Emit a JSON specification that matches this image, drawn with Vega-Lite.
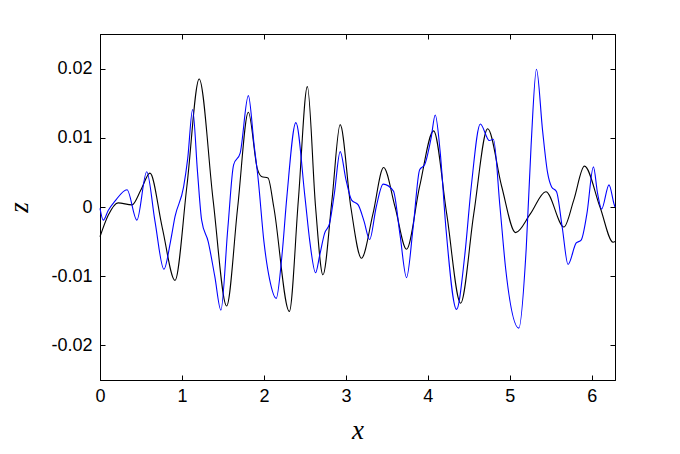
{
  "$schema": "https://vega.github.io/schema/vega-lite/v6.json",
  "width": 515,
  "height": 346,
  "autosize": "none",
  "padding": {"left": 100, "top": 34, "right": 65, "bottom": 74},
  "background": "white",
  "config": {
    "view": {"stroke": "#000000", "strokeWidth": 1},
    "axis": {
      "grid": false,
      "domainColor": "#000000",
      "tickColor": "#000000",
      "labelColor": "#000000",
      "labelFont": "Liberation Sans",
      "labelFontSize": 18,
      "labelFlush": false,
      "titleColor": "#000000",
      "titleFont": "Liberation Serif",
      "titleFontStyle": "italic",
      "titleFontWeight": "normal",
      "titleFontSize": 27
    }
  },
  "data": {"values": [
    {"s":"a","x":0,"z":-0.0043},{"s":"a","x":0.1,"z":-0.0012},{"s":"a","x":0.22,"z":0.0006},{"s":"a","x":0.39,"z":0.0003},{"s":"a","x":0.5,"z":0.0025},{"s":"a","x":0.61,"z":0.0049},{"s":"a","x":0.76,"z":-0.003},{"s":"a","x":0.915,"z":-0.0106},{"s":"a","x":1.06,"z":0.003},{"s":"a","x":1.21,"z":0.0185},{"s":"a","x":1.38,"z":0.001},{"s":"a","x":1.545,"z":-0.0143},{"s":"a","x":1.68,"z":0.0},{"s":"a","x":1.81,"z":0.0137},{"s":"a","x":1.92,"z":0.0055},{"s":"a","x":1.97,"z":0.0044},{"s":"a","x":2.05,"z":0.0042},{"s":"a","x":2.12,"z":0.0},{"s":"a","x":2.31,"z":-0.0151},{"s":"a","x":2.42,"z":0.001},{"s":"a","x":2.53,"z":0.0174},{"s":"a","x":2.63,"z":0.0},{"s":"a","x":2.72,"z":-0.0098},{"s":"a","x":2.83,"z":0.001},{"s":"a","x":2.93,"z":0.0119},{"s":"a","x":3.06,"z":0.0},{"s":"a","x":3.19,"z":-0.0074},{"s":"a","x":3.33,"z":-0.001},{"s":"a","x":3.46,"z":0.0057},{"s":"a","x":3.6,"z":0.0},{"s":"a","x":3.74,"z":-0.0061},{"s":"a","x":3.9,"z":0.003},{"s":"a","x":4.07,"z":0.011},{"s":"a","x":4.23,"z":-0.001},{"s":"a","x":4.4,"z":-0.0139},{"s":"a","x":4.56,"z":-0.001},{"s":"a","x":4.73,"z":0.0113},{"s":"a","x":4.9,"z":0.003},{"s":"a","x":5.07,"z":-0.0037},{"s":"a","x":5.25,"z":-0.001},{"s":"a","x":5.44,"z":0.0022},{"s":"a","x":5.66,"z":-0.0029},{"s":"a","x":5.78,"z":0.001},{"s":"a","x":5.91,"z":0.0059},{"s":"a","x":6.1,"z":0.0},{"s":"a","x":6.26,"z":-0.0051},{"s":"a","x":6.283,"z":-0.005},
    {"s":"b","x":0,"z":-0.0002},{"s":"b","x":0.04,"z":-0.0019},{"s":"b","x":0.1,"z":-0.0005},{"s":"b","x":0.18,"z":0.0008},{"s":"b","x":0.33,"z":0.0025},{"s":"b","x":0.45,"z":-0.0019},{"s":"b","x":0.57,"z":0.0051},{"s":"b","x":0.67,"z":-0.002},{"s":"b","x":0.78,"z":-0.009},{"s":"b","x":0.86,"z":-0.005},{"s":"b","x":0.915,"z":-0.0014},{"s":"b","x":1.02,"z":0.0029},{"s":"b","x":1.07,"z":0.007},{"s":"b","x":1.13,"z":0.0141},{"s":"b","x":1.19,"z":0.005},{"s":"b","x":1.24,"z":-0.0019},{"s":"b","x":1.32,"z":-0.005},{"s":"b","x":1.4,"z":-0.01},{"s":"b","x":1.475,"z":-0.0149},{"s":"b","x":1.56,"z":-0.003},{"s":"b","x":1.63,"z":0.0061},{"s":"b","x":1.71,"z":0.0078},{"s":"b","x":1.81,"z":0.0161},{"s":"b","x":1.88,"z":0.009},{"s":"b","x":1.93,"z":0.004},{"s":"b","x":2.0,"z":-0.005},{"s":"b","x":2.07,"z":-0.0105},{"s":"b","x":2.15,"z":-0.0132},{"s":"b","x":2.22,"z":-0.007},{"s":"b","x":2.28,"z":0.0015},{"s":"b","x":2.39,"z":0.0122},{"s":"b","x":2.5,"z":0.0015},{"s":"b","x":2.56,"z":-0.005},{"s":"b","x":2.63,"z":-0.0095},{"s":"b","x":2.68,"z":-0.007},{"s":"b","x":2.74,"z":-0.0038},{"s":"b","x":2.8,"z":-0.0024},{"s":"b","x":2.86,"z":0.002},{"s":"b","x":2.93,"z":0.008},{"s":"b","x":3.0,"z":0.004},{"s":"b","x":3.07,"z":0.001},{"s":"b","x":3.15,"z":0.0003},{"s":"b","x":3.22,"z":-0.002},{"s":"b","x":3.29,"z":-0.0047},{"s":"b","x":3.37,"z":0.0},{"s":"b","x":3.455,"z":0.0033},{"s":"b","x":3.58,"z":0.0023},{"s":"b","x":3.66,"z":-0.004},{"s":"b","x":3.74,"z":-0.0102},{"s":"b","x":3.82,"z":-0.003},{"s":"b","x":3.9,"z":0.0054},{"s":"b","x":3.96,"z":0.0061},{"s":"b","x":4.04,"z":0.01},{"s":"b","x":4.09,"z":0.0133},{"s":"b","x":4.15,"z":0.008},{"s":"b","x":4.22,"z":-0.003},{"s":"b","x":4.35,"z":-0.0148},{"s":"b","x":4.45,"z":-0.007},{"s":"b","x":4.53,"z":0.003},{"s":"b","x":4.64,"z":0.012},{"s":"b","x":4.75,"z":0.0096},{"s":"b","x":4.8,"z":0.0098},{"s":"b","x":4.88,"z":0.0},{"s":"b","x":4.95,"z":-0.009},{"s":"b","x":5.11,"z":-0.0175},{"s":"b","x":5.2,"z":-0.006},{"s":"b","x":5.26,"z":0.009},{"s":"b","x":5.325,"z":0.0199},{"s":"b","x":5.4,"z":0.011},{"s":"b","x":5.46,"z":0.005},{"s":"b","x":5.51,"z":0.0029},{"s":"b","x":5.57,"z":0.0022},{"s":"b","x":5.64,"z":-0.003},{"s":"b","x":5.71,"z":-0.0083},{"s":"b","x":5.81,"z":-0.0052},{"s":"b","x":5.87,"z":-0.0048},{"s":"b","x":5.94,"z":-0.001},{"s":"b","x":6.02,"z":0.0058},{"s":"b","x":6.07,"z":0.002},{"s":"b","x":6.12,"z":-0.0003},{"s":"b","x":6.21,"z":0.0032},{"s":"b","x":6.27,"z":0.0005},{"s":"b","x":6.283,"z":0.0}
  ]},
  "layer": [
    {
      "transform": [{"filter": "datum.s === 'a'"}],
      "mark": {"type": "line", "interpolate": "monotone", "strokeWidth": 1.1, "color": "#000000"},
      "encoding": {
        "x": {"field": "x", "type": "quantitative", "scale": {"domain": [0, 6.283185], "nice": false, "zero": false},
              "axis": {"orient": "bottom", "values": [0,1,2,3,4,5,6], "tickSize": -5, "labelPadding": 12, "title": "x", "titlePadding": 12}},
        "y": {"field": "z", "type": "quantitative", "scale": {"domain": [-0.025, 0.025], "nice": false},
              "axis": {"orient": "left", "values": [-0.02,-0.01,0,0.01,0.02], "labelExpr": "'' + datum.value", "tickSize": -5, "labelPadding": 13, "title": "z", "titleAngle": -90, "titlePadding": 17}}
      }
    },
    {
      "transform": [{"filter": "datum.s === 'b'"}],
      "mark": {"type": "line", "interpolate": "monotone", "strokeWidth": 1.1, "color": "#0000ff"},
      "encoding": {
        "x": {"field": "x", "type": "quantitative", "scale": {"domain": [0, 6.283185], "nice": false, "zero": false},
              "axis": {"orient": "top", "values": [0,1,2,3,4,5,6], "tickSize": -5, "labels": false, "title": null}},
        "y": {"field": "z", "type": "quantitative", "scale": {"domain": [-0.025, 0.025], "nice": false},
              "axis": {"orient": "right", "values": [-0.02,-0.01,0,0.01,0.02], "tickSize": -5, "labels": false, "title": null}}
      }
    }
  ],
  "resolve": {"axis": {"x": "independent", "y": "independent"}}
}
